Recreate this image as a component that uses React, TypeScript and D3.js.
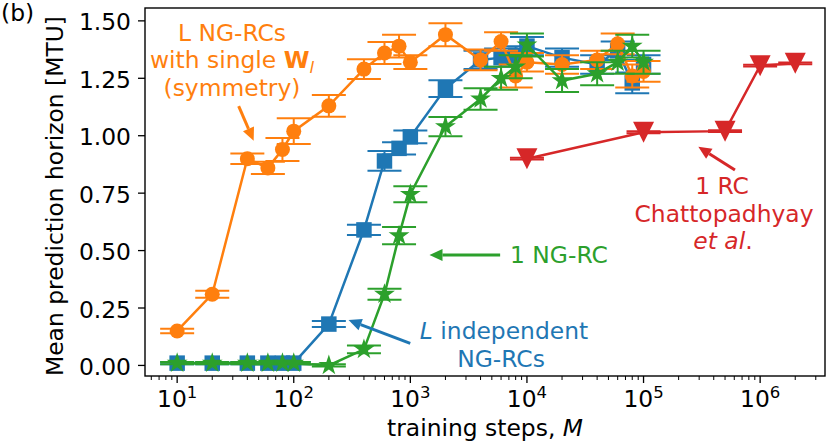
import React from "react";
import * as d3 from "d3";

// training steps M shared by the three NG-RC series
const steps = [10, 20, 40, 60, 80, 100, 200, 400, 600, 800, 1000, 2000, 4000, 6000, 8000, 10000, 20000, 40000, 60000, 80000, 100000];

// L NG-RCs with single W_l (symmetry)
const symmetryMean = [0.15, 0.31, 0.9, 0.86, 0.94, 1.02, 1.13, 1.29, 1.36, 1.39, 1.32, 1.44, 1.33, 1.41, 1.26, 1.32, 1.31, 1.33, 1.4, 1.26, 1.28];
const symmetryErr = [0.01, 0.015, 0.023, 0.027, 0.05, 0.056, 0.047, 0.043, 0.048, 0.05, 0.03, 0.05, 0.045, 0.04, 0.05, 0.04, 0.04, 0.04, 0.045, 0.05, 0.045];

// L independent NG-RCs
const independentMean = [0.01, 0.01, 0.01, 0.01, 0.01, 0.01, 0.18, 0.59, 0.89, 0.945, 0.995, 1.205, 1.33, 1.34, 1.35, 1.39, 1.34, 1.31, 1.37, 1.23, 1.31];
const independentErr = [0.005, 0.005, 0.005, 0.005, 0.005, 0.005, 0.013, 0.022, 0.043, 0.027, 0.028, 0.036, 0.04, 0.04, 0.04, 0.04, 0.04, 0.04, 0.04, 0.045, 0.04];

// 1 NG-RC
const singleMean = [0.01, 0.01, 0.01, 0.01, 0.01, 0.01, 0.0, 0.07, 0.31, 0.565, 0.745, 1.04, 1.16, 1.25, 1.3, 1.395, 1.24, 1.27, 1.32, 1.39, 1.32];
const singleErr = [0.005, 0.005, 0.005, 0.005, 0.005, 0.005, 0.005, 0.017, 0.024, 0.038, 0.035, 0.042, 0.047, 0.05, 0.05, 0.05, 0.05, 0.05, 0.05, 0.05, 0.05];

// 1 RC, Chattopadhyay et al.
const rcSteps = [10000, 100000, 500000, 1000000, 2000000];
const rcMean = [0.9, 1.015, 1.02, 1.305, 1.315];
const rcErr = [0.004, 0.004, 0.004, 0.004, 0.004];

const yTicks = [0, 0.25, 0.5, 0.75, 1.0, 1.25, 1.5];
const xExponents = [1, 2, 3, 4, 5, 6];

const W = 830;
const H = 447;
const margin = { top: 8, right: 5, bottom: 71, left: 145 };
const FONT = "DejaVu Sans";
const FS = 23.4;

const C = {
  blue: "#1f77b4",
  orange: "#ff7f0e",
  green: "#2ca02c",
  red: "#d62728",
};

const x = d3.scaleLog().domain([5.3, 3.6e6]).range([margin.left, W - margin.right]);
const y = d3.scaleLinear().domain([-0.046, 1.556]).range([H - margin.bottom, margin.top]);

const circlePath = d3.symbol(d3.symbolCircle, Math.PI * 7.5 * 7.5)()!;
const squarePath = d3.symbol(d3.symbolSquare, 240)()!;
const starPath = d3.symbol(d3.symbolStar, 135)()!;
const triDownPath = "M-10.5,-10.5L10.5,-10.5L0,10.5Z";

const CAP = 17;

function Series({ xs, ys, errs, color, marker }: { xs: number[]; ys: number[]; errs: number[]; color: string; marker: string }) {
  const line = d3
    .line<number>()
    .x((_, i) => x(xs[i]))
    .y((d) => y(d));
  return (
    <g>
      {ys.map((v, i) => {
        const cx = x(xs[i]);
        const top = y(v + errs[i]);
        const bot = y(v - errs[i]);
        return (
          <g key={i} stroke={color} strokeWidth={2}>
            <line x1={cx} x2={cx} y1={top} y2={bot} />
            <line x1={cx - CAP} x2={cx + CAP} y1={top} y2={top} />
            <line x1={cx - CAP} x2={cx + CAP} y1={bot} y2={bot} />
          </g>
        );
      })}
      <path d={line(ys) || ""} fill="none" stroke={color} strokeWidth={2.5} />
      {ys.map((v, i) => (
        <path key={i} d={marker} transform={`translate(${x(xs[i])},${y(v)})`} fill={color} />
      ))}
    </g>
  );
}

// annotation arrow: tail and tip given in data coordinates
function Arrow({ from, to, color }: { from: [number, number]; to: [number, number]; color: string }) {
  const x0 = x(from[0]);
  const y0 = y(from[1]);
  const x1 = x(to[0]);
  const y1 = y(to[1]);
  const ang = Math.atan2(y1 - y0, x1 - x0);
  const hl = 13;
  const hw = 6;
  const bx = x1 - hl * Math.cos(ang);
  const by = y1 - hl * Math.sin(ang);
  const px = -Math.sin(ang) * hw;
  const py = Math.cos(ang) * hw;
  return (
    <g>
      <line x1={x0} y1={y0} x2={bx} y2={by} stroke={color} strokeWidth={3} />
      <path d={`M${x1},${y1}L${bx + px},${by + py}L${bx - px},${by - py}Z`} fill={color} />
    </g>
  );
}

export default function App() {
  const x0 = margin.left;
  const x1 = W - margin.right;
  const y0 = margin.top;
  const y1 = H - margin.bottom;

  const minor: number[] = [];
  for (let e = 0; e <= 6; e++) {
    for (let k = 2; k <= 9; k++) {
      const v = k * Math.pow(10, e);
      if (v > x.domain()[0] && v < x.domain()[1]) minor.push(v);
    }
  }

  return (
    <svg width={W} height={H} style={{ position: "absolute", left: 0, top: 0, background: "#fff" }} fontFamily={FONT}>
      <rect x={0} y={0} width={W} height={H} fill="#fff" />

      {/* series */}
      <Series xs={steps} ys={independentMean} errs={independentErr} color={C.blue} marker={squarePath} />
      <Series xs={steps} ys={symmetryMean} errs={symmetryErr} color={C.orange} marker={circlePath} />
      <Series xs={steps} ys={singleMean} errs={singleErr} color={C.green} marker={starPath} />
      <Series xs={rcSteps} ys={rcMean} errs={rcErr} color={C.red} marker={triDownPath} />

      {/* frame */}
      <rect x={x0} y={y0} width={x1 - x0} height={y1 - y0} fill="none" stroke="#000" strokeWidth={1.4} />

      {/* y axis */}
      {yTicks.map((t) => (
        <g key={t}>
          <line x1={x0} x2={x0 - 7} y1={y(t)} y2={y(t)} stroke="#000" strokeWidth={1.3} />
          <text x={x0 - 14} y={y(t) + 9.5} textAnchor="end" fontSize={FS}>
            {t.toFixed(2)}
          </text>
        </g>
      ))}

      {/* x axis */}
      {minor.map((v) => (
        <line key={v} x1={x(v)} x2={x(v)} y1={y1} y2={y1 + 4} stroke="#000" strokeWidth={1} />
      ))}
      {xExponents.map((e) => {
        const px = x(Math.pow(10, e));
        return (
          <g key={e}>
            <line x1={px} x2={px} y1={y1} y2={y1 + 7} stroke="#000" strokeWidth={1.3} />
            <text x={px} y={407} textAnchor="middle" fontSize={FS}>
              10
              <tspan dy={-9} fontSize={16.5}>
                {e}
              </tspan>
            </text>
          </g>
        );
      })}

      {/* axis labels */}
      <text x={(x0 + x1) / 2} y={436} textAnchor="middle" fontSize={FS}>
        training steps, <tspan fontStyle="italic">M</tspan>
      </text>
      <text transform={`translate(63,${(y0 + y1) / 2 + 4}) rotate(-90)`} textAnchor="middle" fontSize={FS}>
        Mean prediction horizon [MTU]
      </text>
      <text x={1} y={21} fontSize={FS}>
        (b)
      </text>

      {/* annotations */}
      <g fill={C.orange} fontSize={FS} textAnchor="middle">
        <text x={232} y={40.5}>L NG-RCs</text>
        <text x={232} y={68}>
          with single <tspan fontWeight="bold">W</tspan>
          <tspan dy={5} fontSize={16.5} fontStyle="italic">l</tspan>
        </text>
        <text x={232} y={95.5}>(symmetry)</text>
      </g>
      <Arrow from={[33.7, 1.129]} to={[45.3, 0.978]} color={C.orange} />

      <text x={510} y={262.5} fill={C.green} fontSize={FS}>
        1 NG-RC
      </text>
      <Arrow from={[5890, 0.481]} to={[1459, 0.481]} color={C.green} />

      <g fill={C.blue} fontSize={FS} textAnchor="middle">
        <text x={504} y={339}>
          <tspan fontStyle="italic">L</tspan> independent
        </text>
        <text x={501} y={366.5}>NG-RCs</text>
      </g>
      <Arrow from={[998, 0.096]} to={[295, 0.198]} color={C.blue} />

      <g fill={C.red} fontSize={FS} textAnchor="middle">
        <text x={722} y={194}>1 RC</text>
        <text x={724} y={221.5}>Chattopadhyay</text>
        <text x={723} y={249}>
          <tspan fontStyle="italic">et al</tspan>.
        </text>
      </g>
      <Arrow from={[6.08e5, 0.851]} to={[2.95e5, 0.952]} color={C.red} />
    </svg>
  );
}
